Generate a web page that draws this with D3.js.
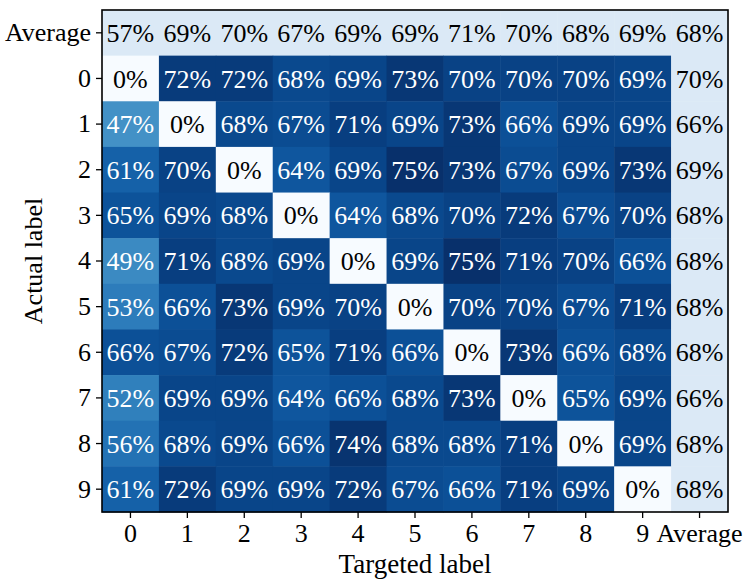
<!DOCTYPE html>
<html>
<head>
<meta charset="utf-8">
<script src="https://cdn.jsdelivr.net/npm/d3@7"></script>
<style>
  html, body { margin: 0; padding: 0; background: #fff; }
  svg text { font-family: "Liberation Serif", "Times New Roman", serif; }
</style>
</head>
<body>
<svg id="chart" width="747" height="582"></svg>
<script>
const targetLabels = ["0", "1", "2", "3", "4", "5", "6", "7", "8", "9", "Average"];
const actualLabels = ["Average", "0", "1", "2", "3", "4", "5", "6", "7", "8", "9"];

// success rate (%) per actual label (rows) x targeted label (cols 0-9)
const averageRow = [57, 69, 70, 67, 69, 69, 71, 70, 68, 69];
const rates = [
  [0, 72, 72, 68, 69, 73, 70, 70, 70, 69],
  [47, 0, 68, 67, 71, 69, 73, 66, 69, 69],
  [61, 70, 0, 64, 69, 75, 73, 67, 69, 73],
  [65, 69, 68, 0, 64, 68, 70, 72, 67, 70],
  [49, 71, 68, 69, 0, 69, 75, 71, 70, 66],
  [53, 66, 73, 69, 70, 0, 70, 70, 67, 71],
  [66, 67, 72, 65, 71, 66, 0, 73, 66, 68],
  [52, 69, 69, 64, 66, 68, 73, 0, 65, 69],
  [56, 68, 69, 66, 74, 68, 68, 71, 0, 69],
  [61, 72, 69, 69, 72, 67, 66, 71, 69, 0]
];
const averageCol = [68, 70, 66, 69, 68, 68, 68, 68, 66, 68, 68];

const margin = { top: 10, right: 19, bottom: 70, left: 102 };
const width = 747, height = 582;
const fontSize = 26;
const svg = d3.select("#chart");

const x = d3.scaleBand().domain(targetLabels).range([margin.left, width - margin.right]);
const y = d3.scaleBand().domain(actualLabels).range([margin.top, height - margin.bottom]);
const color = d3.scaleSequential(d3.interpolateBlues).domain([0, 75]);
const avgFill = "#dbe9f6";

// flatten into cells
const cells = [];
averageRow.forEach((v, j) => cells.push({ row: "Average", col: targetLabels[j], value: v, avg: true }));
rates.forEach((r, i) => r.forEach((v, j) => cells.push({ row: String(i), col: targetLabels[j], value: v, avg: false })));
averageCol.forEach((v, i) => cells.push({ row: actualLabels[i], col: "Average", value: v, avg: true }));

const g = svg.append("g");
g.selectAll("rect").data(cells).enter().append("rect")
  .attr("x", d => x(d.col))
  .attr("y", d => y(d.row))
  .attr("width", x.bandwidth() + 0.5)
  .attr("height", y.bandwidth() + 0.5)
  .attr("fill", d => d.avg ? avgFill : color(d.value));

g.selectAll("text").data(cells).enter().append("text")
  .attr("x", d => x(d.col) + x.bandwidth() / 2)
  .attr("y", d => y(d.row) + y.bandwidth() / 2)
  .attr("dy", "0.35em")
  .attr("text-anchor", "middle")
  .attr("font-size", fontSize)
  .attr("fill", d => (!d.avg && d.value > 30) ? "#fff" : "#000")
  .text(d => `${d.value}%`);

// frame
svg.append("rect")
  .attr("x", margin.left).attr("y", margin.top)
  .attr("width", width - margin.left - margin.right)
  .attr("height", height - margin.top - margin.bottom)
  .attr("fill", "none").attr("stroke", "#000").attr("stroke-width", 1.6);

const xAxis = svg.append("g")
  .attr("transform", `translate(0,${height - margin.bottom})`)
  .call(d3.axisBottom(x).tickSize(6).tickPadding(6));
const yAxis = svg.append("g")
  .attr("transform", `translate(${margin.left},0)`)
  .call(d3.axisLeft(y).tickSize(6).tickPadding(5));
[xAxis, yAxis].forEach(a => {
  a.attr("font-family", null).attr("font-size", null);
  a.select(".domain").remove();
  a.selectAll(".tick line").attr("stroke", "#000").attr("stroke-width", 1.3);
  a.selectAll(".tick text").attr("font-size", fontSize).attr("fill", "#000");
});

svg.append("text")
  .attr("x", margin.left + (width - margin.left - margin.right) / 2)
  .attr("y", 573)
  .attr("text-anchor", "middle")
  .attr("font-size", 27)
  .text("Targeted label");

svg.append("text")
  .attr("transform", `translate(42,${margin.top + (height - margin.top - margin.bottom) / 2}) rotate(-90)`)
  .attr("text-anchor", "middle")
  .attr("font-size", 26)
  .text("Actual label");
</script>
</body>
</html>
